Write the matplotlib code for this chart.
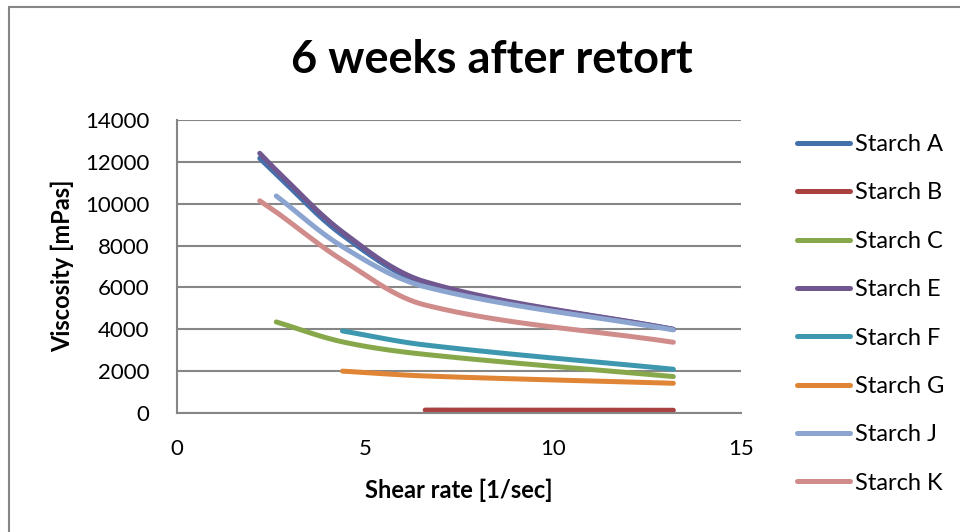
import numpy as np
import matplotlib
matplotlib.use('Agg')
import matplotlib.pyplot as plt
from matplotlib.patches import Rectangle

plt.rcParams['font.family'] = ['Lato', 'DejaVu Sans']

# shear rate [1/sec] and viscosity [mPas] for each starch
names = ['Starch A', 'Starch B', 'Starch C', 'Starch E',
         'Starch F', 'Starch G', 'Starch J', 'Starch K']
shear_a = [2.2, 2.64, 4.4, 6.6, 13.2]
visc_a = [12170, 11400, 8500, 6200, 4000]
shear_b = [6.6, 13.2]
visc_b = [140, 130]
shear_c = [2.64, 4.4, 6.6, 13.2]
visc_c = [4350, 3400, 2800, 1740]
shear_e = [2.2, 2.64, 4.4, 6.6, 13.2]
visc_e = [12410, 11600, 8650, 6270, 4000]
shear_f = [4.4, 6.6, 13.2]
visc_f = [3920, 3250, 2090]
shear_g = [4.4, 6.6, 13.2]
visc_g = [2000, 1770, 1420]
shear_j = [2.64, 4.4, 6.6, 13.2]
visc_j = [10370, 7950, 6030, 3970]
shear_k = [2.2, 2.64, 4.4, 6.6, 13.2]
visc_k = [10140, 9600, 7300, 5160, 3380]

shears = [shear_a, shear_b, shear_c, shear_e, shear_f, shear_g, shear_j, shear_k]
viscs = [visc_a, visc_b, visc_c, visc_e, visc_f, visc_g, visc_j, visc_k]
colors = ['#4470ac', '#a94140', '#86a84a', '#70578f',
          '#3d98af', '#e08436', '#8ba5d0', '#d08c8b']


def smooth(x, y, sx=37.6, sy=0.020929, n=40):
    # smoothed line through the points (bezier, chord-length tangents)
    p = np.column_stack([np.asarray(x, float) * sx, np.asarray(y, float) * sy])
    if len(p) < 3:
        return np.asarray(x, float), np.asarray(y, float)
    m = np.zeros_like(p)
    for i in range(len(p)):
        d = p[min(i + 1, len(p) - 1)] - p[max(i - 1, 0)]
        m[i] = d / np.hypot(*d)
    t = np.linspace(0, 1, n)[:, None]
    pts = []
    for i in range(len(p) - 1):
        p1, p2 = p[i], p[i + 1]
        L = np.hypot(*(p2 - p1))
        c1 = p1 + m[i] * L / 3
        c2 = p2 - m[i + 1] * L / 3
        seg = ((1 - t) ** 3 * p1 + 3 * (1 - t) ** 2 * t * c1
               + 3 * (1 - t) * t ** 2 * c2 + t ** 3 * p2)
        pts.append(seg if i == 0 else seg[1:])
    pts = np.vstack(pts)
    return pts[:, 0] / sx, pts[:, 1] / sy


fig = plt.figure(figsize=(9.6, 5.32), dpi=100)
ax = fig.add_axes([0.1844, 0.2237, 0.5875, 0.5507])

for name, xs, ys, c in zip(names, shears, viscs, colors):
    sx_, sy_ = smooth(xs, ys)
    ax.plot(sx_, sy_, color=c, lw=3.6, solid_capstyle='round', label=name)

ax.set_xlim(0, 15)
ax.set_ylim(0, 14000)
ax.set_xticks([0, 5, 10, 15])
ax.set_yticks(range(0, 14001, 2000))
ax.tick_params(labelsize=16, length=0)
ax.tick_params(axis='y', pad=20)
ax.tick_params(axis='x', pad=19)
ax.grid(axis='y', color='#868686', lw=1.5)
ax.set_axisbelow(True)
for s in ['top', 'right']:
    ax.spines[s].set_visible(False)
for s in ['left', 'bottom']:
    ax.spines[s].set_color('#868686')
    ax.spines[s].set_linewidth(1.5)

fig.text(492 / 960, 1 - 60 / 532, '6 weeks after retort', fontsize=32.5,
         fontweight='bold', ha='center', va='center')
fig.text(459 / 960, 1 - 490 / 532, 'Shear rate [1/sec]', fontsize=17,
         fontweight='bold', ha='center', va='center')
fig.text(62 / 960, 1 - 266 / 532, 'Viscosity [mPas]', fontsize=17,
         fontweight='bold', ha='center', va='center', rotation=90)

ax.legend(loc='upper left', bbox_to_anchor=(797 / 960, 1 - 134 / 532),
          bbox_transform=fig.transFigure, frameon=False,
          fontsize=17, handlelength=2.25, handletextpad=0.2,
          labelspacing=1.16, borderaxespad=0, borderpad=0)

# chart border
fig.add_artist(Rectangle((9 / 960, -0.1), 1.2, 1.1 - 7 / 532,
                         transform=fig.transFigure, fill=False,
                         edgecolor='#868686', lw=1.5))

fig.savefig('out.png', dpi=100)
